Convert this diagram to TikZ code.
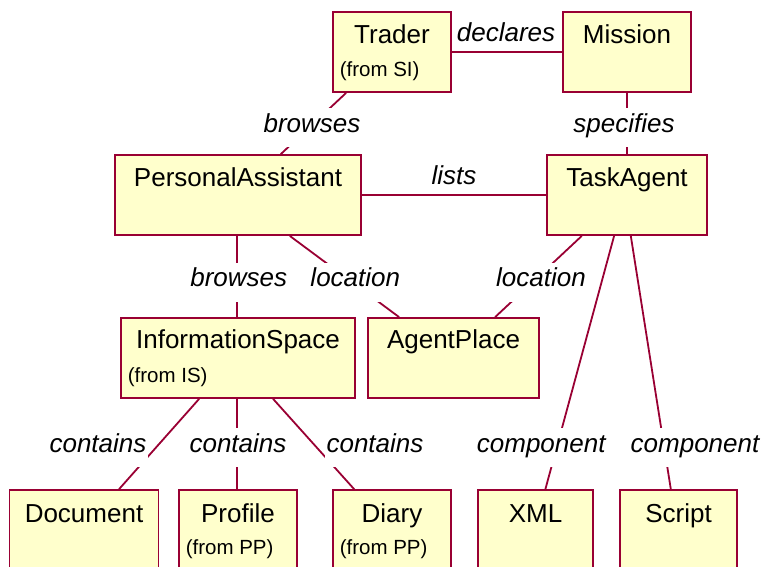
\documentclass[tikz,border=0pt]{standalone}
\usepackage{fontspec}
\setmainfont{Liberation Sans}
\definecolor{roseline}{RGB}{153,0,51}
\definecolor{rosefill}{RGB}{255,255,204}
\begin{document}
\begin{tikzpicture}[x=1pt,y=-1pt,
  box/.style={draw=roseline, fill=rosefill, line width=1.8pt, inner sep=0pt, rectangle},
  cname/.style={anchor=base, inner sep=0pt, font=\fontsize{26}{30}\selectfont},
  cfrom/.style={anchor=base west, inner sep=0pt, font=\fontsize{20.5}{24}\selectfont},
  conn/.style={draw=roseline, line width=1.8pt},
  rlabel/.style={anchor=base, inner xsep=2pt, inner ysep=0pt, fill=white, text height=24pt, text depth=15pt, font=\fontsize{26}{30}\selectfont\itshape},
  plabel/.style={anchor=base, inner sep=0pt, font=\fontsize{26}{30}\selectfont\itshape}
]
\path[use as bounding box] (0,0) rectangle (762,566);
\clip (0,0) rectangle (762,566);

% boxes
\node[box, minimum width=118pt, minimum height=80pt] (trader) at (392,52) {};
\node[box, minimum width=128pt, minimum height=80pt] (mission) at (627,52) {};
\node[box, minimum width=246pt, minimum height=80pt] (pa) at (238,195) {};
\node[box, minimum width=160pt, minimum height=80pt] (ta) at (627,195) {};
\node[box, minimum width=234pt, minimum height=80pt] (is) at (238,358) {};
\node[box, minimum width=171pt, minimum height=80pt] (ap) at (453.5,358) {};
\node[box, minimum width=149pt, minimum height=90pt] (doc) at (84,535) {};
\node[box, minimum width=118pt, minimum height=90pt] (profile) at (238,535) {};
\node[box, minimum width=118pt, minimum height=90pt] (diary) at (392,535) {};
\node[box, minimum width=115pt, minimum height=90pt] (xml) at (535.5,535) {};
\node[box, minimum width=117pt, minimum height=90pt] (script) at (678.5,535) {};

% box texts
\node[cname] (traderT) at ([yshift=-32pt]trader.north) {Trader};
\node[cfrom] (traderF) at ([xshift=7.5pt,yshift=-65pt]trader.north west) {(from SI)};
\node[cname] (missionT) at ([yshift=-32pt]mission.north) {Mission};
\node[cname] (paT) at ([yshift=-32pt]pa.north) {PersonalAssistant};
\node[cname] (taT) at ([yshift=-32pt]ta.north) {TaskAgent};
\node[cname] (isT) at ([yshift=-31pt]is.north) {InformationSpace};
\node[cfrom] (isF) at ([xshift=7.5pt,yshift=-65pt]is.north west) {(from IS)};
\node[cname] (apT) at ([yshift=-31pt]ap.north) {AgentPlace};
\node[cname] (docT) at ([yshift=-33pt]doc.north) {Document};
\node[cname] (profileT) at ([yshift=-33pt]profile.north) {Profile};
\node[cfrom] (profileF) at ([xshift=7.5pt,yshift=-65pt]profile.north west) {(from PP)};
\node[cname] (diaryT) at ([yshift=-33pt]diary.north) {Diary};
\node[cfrom] (diaryF) at ([xshift=7.5pt,yshift=-65pt]diary.north west) {(from PP)};
\node[cname] (xmlT) at ([yshift=-33pt]xml.north) {XML};
\node[cname] (scriptT) at ([yshift=-33pt]script.north) {Script};

% connectors
\draw[conn] (trader.east) -- (mission.west);
\draw[conn] ([xshift=14pt]trader.south west) -- ([xshift=166.7pt]pa.north west);
\draw[conn] (mission.south) -- (ta.north);
\draw[conn] (pa.east) -- (ta.west);
\draw[conn] ([xshift=-1pt]pa.south) -- ([xshift=-1pt]is.north);
\draw[conn] ([xshift=175.7pt]pa.south west) -- ([xshift=32pt]ap.north west);
\draw[conn] ([xshift=35.7pt]ta.south west) -- ([xshift=128pt]ap.north west);
\draw[conn] ([xshift=68pt]ta.south west) -- ([xshift=68.3pt]xml.north west);
\draw[conn] ([xshift=84.7pt]ta.south west) -- ([xshift=51.7pt]script.north west);
\draw[conn] ([xshift=79pt]is.south west) -- ([xshift=110.5pt]doc.north west);
\draw[conn] ([xshift=-1pt]is.south) -- ([xshift=-1pt]profile.north);
\draw[conn] ([xshift=153pt]is.south west) -- ([xshift=22pt]diary.north west);

% labels
\node[plabel] (lDeclares) at (506,41) {declares};
\node[rlabel] (lBrowses1) at (312,132) {browses};
\node[rlabel] (lSpecifies) at (624,132) {specifies};
\node[plabel] (lLists) at (454,184.3) {lists};
\node[rlabel] (lBrowses2) at (238.7,286.7) {browses};
\node[rlabel] (lLocation1) at (355.3,286.7) {location};
\node[rlabel] (lLocation2) at (541,286.7) {location};
\node[rlabel] (lContains1) at (98,452.3) {contains};
\node[rlabel] (lContains2) at (238,452.3) {contains};
\node[rlabel] (lContains3) at (375,452.3) {contains};
\node[rlabel] (lComponent1) at (541.2,452.3) {component};
\node[rlabel] (lComponent2) at (695,452.3) {component};
\end{tikzpicture}
\end{document}
